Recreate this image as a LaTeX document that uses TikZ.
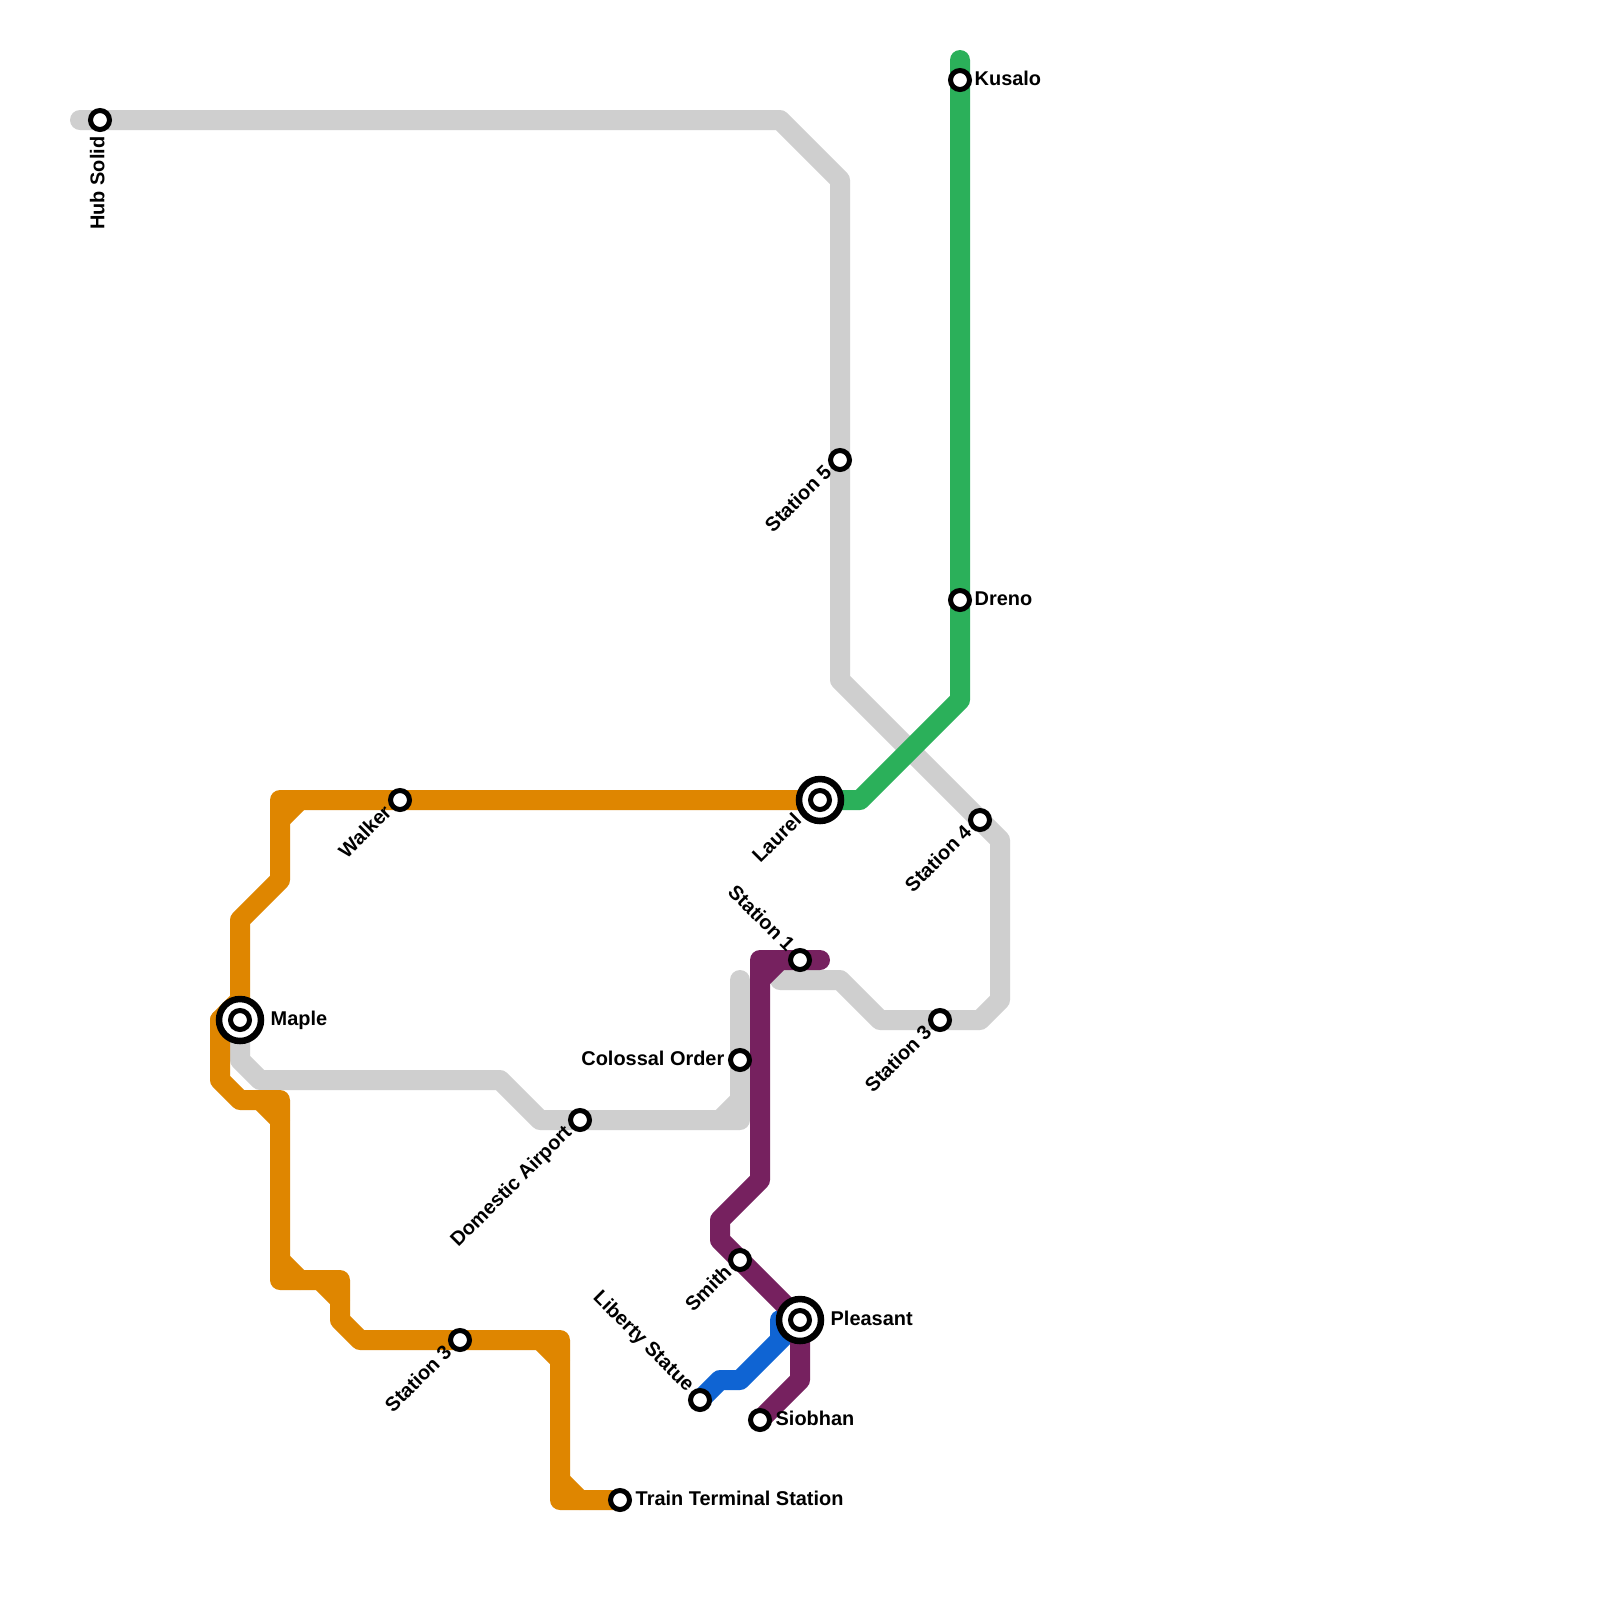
\documentclass[tikz,border=0pt]{standalone}
\usepackage{fontspec}
\setmainfont{Liberation Sans}
\usepackage{xcolor}
\usetikzlibrary{backgrounds}
\definecolor{oranje}{HTML}{DF8600}
\definecolor{grijs}{HTML}{CFCFCF}
\definecolor{groen}{HTML}{2BB05A}
\definecolor{paars}{HTML}{76215F}
\definecolor{blauw}{HTML}{0F64D3}

\begin{document}
\begin{tikzpicture}[
  x=.2cm, y=-.2cm,
  font=\fontsize{5.67}{6.8}\selectfont\bfseries,
  lijn/.style={line width=.2cm, line join=round, line cap=round},
  halte/.style={circle, draw=black, fill=white, line width=.05cm, minimum size=.19cm, inner sep=0pt},
  ring/.style={halte, line width=.065cm, minimum size=.42cm},
  etiq/.style={inner sep=0pt, text height=1.45mm, text depth=0pt}
]
  \useasboundingbox (0,0) rectangle (80,80);

  \node[halte] (hub) at (5,6) {};
  \node[halte] (kusalo) at (48,4) {};
  \node[halte] (dreno) at (48,30) {};
  \node[halte] (station5) at (42,23) {};
  \node[ring] (laurel) at (41,40) {};
  \node[halte] (laurelin) at (41,40) {};
  \node[halte] (walker) at (20,40) {};
  \node[halte] (station4) at (49,41) {};
  \node[halte] (station1) at (40,48) {};
  \node[halte] (oost3) at (47,51) {};
  \node[halte] (colossal) at (37,53) {};
  \node[ring] (maple) at (12,51) {};
  \node[halte] (maplein) at (12,51) {};
  \node[halte] (domestic) at (29,56) {};
  \node[halte] (smith) at (37,63) {};
  \node[ring] (pleasant) at (40,66) {};
  \node[halte] (pleasantin) at (40,66) {};
  \node[halte] (west3) at (23,67) {};
  \node[halte] (liberty) at (35,70) {};
  \node[halte] (siobhan) at (38,71) {};
  \node[halte] (terminal) at (31,75) {};

  \coordinate (grijseind) at (39,49);
  \coordinate (hubeind) at (4,6);
  \coordinate (groeneind) at (48,3);
  \coordinate (paarseind) at (41,48);

  \begin{scope}[on background layer]
    \fill[white] (0,0) rectangle (80,80);
    % grey lines
    \draw[lijn, grijs] (hubeind) -- (hub.center) -- (39,6) -- (42,9) -- (station5.center) -- (42,34)
      -- (station4.center) -- (50,42) -- (50,50) -- (49,51) -- (oost3.center) -- (44,51) -- (42,49) -- (grijseind);
    \draw[lijn, grijs] (maple.center) -- (12,53) -- (13,54) -- (25,54) -- (27,56) -- (domestic.center)
      -- (37,56) -- (colossal.center) -- (37,49) (36,56) -- (37,55);
    % orange line
    \draw[lijn, oranje] (terminal.center) -- (28,75) -- (28,67) -- (west3.center) -- (18,67) -- (17,66)
      -- (17,64) -- (14,64) -- (14,55) -- (12,55) -- (11,54) -- (11,51) -- (maple.center) -- (12,46)
      -- (14,44) -- (14,40) -- (walker.center) -- (laurel.center);
    \draw[lijn, oranje] (28,74) -- (29,75) (27,67) -- (28,68) (16,64) -- (17,65) (14,63) -- (15,64)
      (13,55) -- (14,56) (14,41) -- (15,40) (11,51) -- (12,50);
    % green line
    \draw[lijn, groen] (groeneind) -- (kusalo.center) -- (dreno.center) -- (48,35) -- (43,40) -- (laurel.center);
    % blue line
    \draw[lijn, blauw] (liberty.center) -- (36,69) -- (37,69) -- (39,67) -- (39,66) -- (pleasant.center) (39,67) -- (40,66);
    % purple line
    \draw[lijn, paars] (paarseind) -- (station1.center) -- (38,48) -- (38,59) -- (36,61) -- (36,62)
      -- (smith.center) -- (pleasant.center) -- (40,69) -- (siobhan.center) (38,49) -- (39,48);
  \end{scope}

  \node[etiq, anchor=west] (kusalotxt) at (48.7,3.9) {Kusalo};
  \node[etiq, anchor=west] (drenotxt) at (48.7,29.9) {Dreno};
  \node[etiq, anchor=west] (mapletxt) at (13.5,50.9) {Maple};
  \node[etiq, anchor=west] (pleasanttxt) at (41.5,65.9) {Pleasant};
  \node[etiq, anchor=west] (siobhantxt) at (38.75,70.9) {Siobhan};
  \node[etiq, anchor=west] (terminaltxt) at (31.75,74.9) {Train Terminal Station};
  \node[etiq, anchor=east] (colossaltxt) at (36.25,52.9) {Colossal Order};
  \node[etiq, anchor=east, rotate=90] (hubtxt) at (4.85,6.8) {Hub Solid};
  \node[etiq, anchor=east, rotate=45] (station5txt) at (41.4,23.4) {Station 5};
  \node[etiq, anchor=east, rotate=45] (laureltxt) at (39.9,40.8) {Laurel};
  \node[etiq, anchor=east, rotate=45] (walkertxt) at (19.4,40.4) {Walker};
  \node[etiq, anchor=east, rotate=45] (station4txt) at (48.4,41.4) {Station 4};
  \node[etiq, anchor=east, rotate=45] (oost3txt) at (46.4,51.4) {Station 3};
  \node[etiq, anchor=east, rotate=45] (domestictxt) at (28.4,56.4) {Domestic Airport};
  \node[etiq, anchor=east, rotate=45] (smithtxt) at (36.4,63.4) {Smith};
  \node[etiq, anchor=east, rotate=45] (west3txt) at (22.4,67.4) {Station 3};
  \node[etiq, anchor=east, rotate=-45] (station1txt) at (39.6,47.4) {Station 1};
  \node[etiq, anchor=east, rotate=-45] (libertytxt) at (34.6,69.4) {Liberty Statue};
\end{tikzpicture}
\end{document}
